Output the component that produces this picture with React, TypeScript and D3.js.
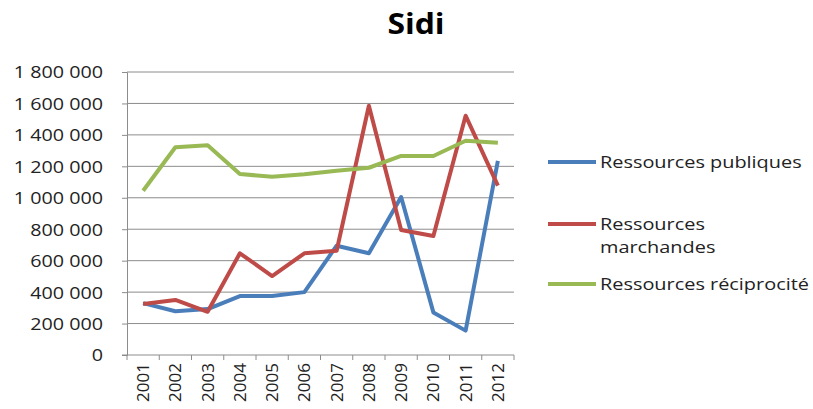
import { useEffect, useRef } from 'react';
import * as d3 from 'd3';

// chart data
const years = ['2001', '2002', '2003', '2004', '2005', '2006', '2007', '2008', '2009', '2010', '2011', '2012'];
const publiques = [330000, 278000, 292000, 375000, 375000, 400000, 695000, 647000, 1005000, 271000, 155000, 1235000];
const marchandes = [325000, 350000, 275000, 647000, 502000, 647000, 663000, 1585000, 795000, 757000, 1522000, 1077000];
const reciprocite = [1045000, 1321000, 1334000, 1151000, 1134000, 1150000, 1172000, 1191000, 1266000, 1266000, 1363000, 1350000];
const yTicks = [0, 200000, 400000, 600000, 800000, 1000000, 1200000, 1400000, 1600000, 1800000];

const series = [
    { name: ['Ressources publiques'], values: publiques, color: '#4A7EBB' },
    { name: ['Ressources', 'marchandes'], values: marchandes, color: '#BE4B48' },
    { name: ['Ressources réciprocité'], values: reciprocite, color: '#98B954' },
];

const fmt = (v: number) => d3.format(',')(v).replace(/,/g, ' ');

const App = () => {
    const ref = useRef<SVGSVGElement>(null);

    useEffect(() => {
        const svg = d3.select(ref.current);
        svg.selectAll('*').remove();
        const font = '"Open Sans", sans-serif';
        const sx = 1.16; // the text in the picture is a bit wider than it is tall

        const x = d3.scaleBand().domain(years).range([127, 514]);
        const y = d3.scaleLinear().domain([0, 1800000]).range([355, 72]);

        // title
        svg.append('text')
            .attr('transform', 'translate(416,34) scale(1.1,1)')
            .attr('text-anchor', 'middle')
            .attr('font-family', font).attr('font-weight', 'bold').attr('font-size', 29)
            .attr('fill', '#000')
            .text('Sidi');

        // gridlines
        svg.append('g').selectAll('line')
            .data(yTicks.filter(d => d > 0))
            .join('line')
            .attr('x1', 127).attr('x2', 514)
            .attr('y1', d => y(d)).attr('y2', d => y(d))
            .attr('stroke', '#8c8c8c').attr('stroke-width', 1);

        // y axis
        const yAxis = svg.append('g').attr('transform', 'translate(127,0)')
            .call(d3.axisLeft(y).tickValues(yTicks).tickFormat(d => fmt(+d)).tickSize(5));
        yAxis.select('.domain').attr('stroke', '#8c8c8c');
        yAxis.selectAll('.tick line').attr('stroke', '#8c8c8c');
        yAxis.selectAll('text')
            .attr('x', -24 / sx).attr('dy', '0.35em')
            .attr('transform', `scale(${sx},1)`)
            .attr('font-family', font).attr('font-size', 17).attr('fill', '#222');

        // x axis
        const xAxis = svg.append('g').attr('transform', 'translate(0,355)');
        xAxis.append('line').attr('x1', 122).attr('x2', 514).attr('y1', 0).attr('y2', 0).attr('stroke', '#8c8c8c');
        xAxis.selectAll('.tk')
            .data(d3.range(years.length + 1))
            .join('line')
            .attr('x1', i => 127 + i * x.step()).attr('x2', i => 127 + i * x.step())
            .attr('y1', 0).attr('y2', 5)
            .attr('stroke', '#8c8c8c');
        xAxis.selectAll('.lbl')
            .data(years)
            .join('text')
            .attr('transform', d => `translate(${x(d)! + x.bandwidth() / 2 + 6},8) rotate(-90)`)
            .attr('text-anchor', 'end')
            .attr('font-family', font).attr('font-size', 17).attr('fill', '#222')
            .text(d => d);

        // lines
        const line = d3.line<number>()
            .x((_, i) => x(years[i])! + x.bandwidth() / 2)
            .y(d => y(d));
        series.forEach(s => {
            svg.append('path')
                .datum(s.values)
                .attr('d', line)
                .attr('fill', 'none')
                .attr('stroke', s.color)
                .attr('stroke-width', 4)
                .attr('stroke-linejoin', 'round');
        });

        // legend
        const legendY = [162, 224, 284];
        series.forEach((s, i) => {
            const g = svg.append('g').attr('transform', `translate(0,${legendY[i]})`);
            g.append('line').attr('x1', 548).attr('x2', 596).attr('y1', 0).attr('y2', 0)
                .attr('stroke', s.color).attr('stroke-width', 4);
            s.name.forEach((t, j) => {
                g.append('text')
                    .attr('transform', `translate(600,${6 + j * 23}) scale(1.17,1)`)
                    .attr('font-family', font).attr('font-size', 17).attr('fill', '#222')
                    .text(t);
            });
        });
    }, []);

    return <svg ref={ref} width={813} height={409} style={{ position: 'absolute', left: 0, top: 0, background: '#fff' }} />;
};

export default App;
